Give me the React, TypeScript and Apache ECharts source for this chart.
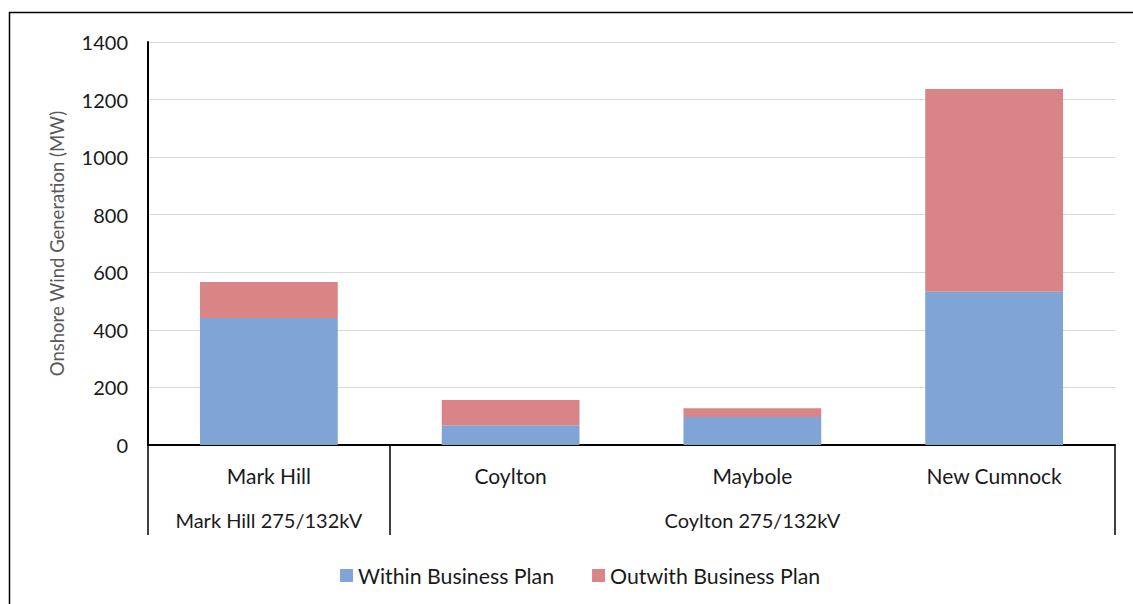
import React, { useEffect, useRef } from "react";
import * as echarts from "echarts";

const categories = ["Mark Hill", "Coylton", "Maybole", "New Cumnock"];
const groupLabels = ["Mark Hill 275/132kV", "", "Coylton 275/132kV", ""];
const withinPlan = [441, 69, 97, 532];
const outwithPlan = [125, 87, 31, 705];
const yTicks = { min: 0, max: 1400, interval: 200 };

const FONT = "Lato, 'Open Sans', sans-serif";

export default function App() {
  const ref = useRef<HTMLDivElement>(null);
  useEffect(() => {
    if (!ref.current) return;
    const chart = echarts.init(ref.current, null, { renderer: "svg" });
    chart.setOption({
      animation: false,
      textStyle: { fontFamily: FONT },
      grid: { left: 148, right: 18, top: 42, bottom: 159, containLabel: false },
      legend: {
        left: 335,
        top: 560,
        itemWidth: 13,
        itemHeight: 13,
        itemGap: 38,
        icon: "rect",
        textStyle: { fontSize: 21.3, color: "#1a1a1a", fontFamily: FONT },
        data: ["Within Business Plan", "Outwith Business Plan"],
      },
      xAxis: [
        {
          type: "category",
          data: categories,
          position: "bottom",
          axisLine: { show: true, lineStyle: { color: "#000", width: 2 } },
          axisTick: {
            show: true,
            length: 90,
            interval: (i: number) => i === 0 || i === 1,
            lineStyle: { color: "#000", width: 1.5 },
          },
          axisLabel: { interval: 0, margin: 20, fontSize: 21, color: "#1a1a1a", fontFamily: FONT },
        },
        {
          type: "category",
          data: groupLabels,
          position: "bottom",
          axisLine: { show: false },
          axisTick: { show: false },
          axisLabel: { interval: 0, margin: 65, fontSize: 20, color: "#1a1a1a", fontFamily: FONT },
        },
      ],
      yAxis: {
        type: "value",
        min: yTicks.min,
        max: yTicks.max,
        interval: yTicks.interval,
        name: "Onshore Wind Generation (MW)",
        nameLocation: "middle",
        nameGap: 82,
        nameTextStyle: { fontSize: 18.5, color: "#595959", fontFamily: FONT },
        axisLine: { show: true, lineStyle: { color: "#000", width: 2 } },
        axisTick: { show: false },
        axisLabel: {
          margin: 20,
          fontSize: 20,
          color: "#1a1a1a",
          fontFamily: FONT,
          formatter: (v: number) => String(v),
        },
        splitLine: { lineStyle: { color: "#d9d9d9", width: 1 } },
      },
      series: [
        {
          name: "Within Business Plan",
          type: "bar",
          stack: "total",
          barWidth: "57%",
          data: withinPlan,
          itemStyle: { color: "#80A4D6" },
        },
        {
          name: "Outwith Business Plan",
          type: "bar",
          stack: "total",
          barWidth: "57%",
          data: outwithPlan,
          itemStyle: { color: "#D98486" },
        },
      ],
      graphic: [
        {
          type: "rect",
          shape: { x: 9.5, y: 12.5, width: 1300, height: 800 },
          style: { fill: "none", stroke: "#000", lineWidth: 1.5 },
          silent: true,
        },
      ],
    });
    return () => chart.dispose();
  }, []);
  return (
    <div
      ref={ref}
      style={{ position: "fixed", left: 0, top: 0, width: 1133, height: 604, background: "#fff" }}
    />
  );
}
